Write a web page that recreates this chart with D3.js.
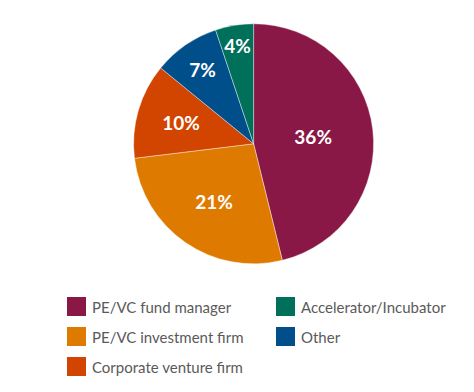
<!DOCTYPE html>
<html>
<head>
<meta charset="utf-8">
<script src="https://cdn.jsdelivr.net/npm/d3@7"></script>
<style>
  html, body { margin: 0; padding: 0; background: #fff; }
  svg { display: block; }
</style>
</head>
<body>
<svg id="chart" width="474" height="392"></svg>
<script>
// Data
const categories = ["PE/VC fund manager", "PE/VC investment firm", "Corporate venture firm", "Other", "Accelerator/Incubator"];
const values = [36, 21, 10, 7, 4];
const labels = ["36%", "21%", "10%", "7%", "4%"];
const colors = ["#8A1846", "#DF7A00", "#D14500", "#004F8B", "#00705A"];

// Legend order (as in reference layout, column-major)
const legendOrder = ["PE/VC fund manager", "PE/VC investment firm", "Corporate venture firm", "Accelerator/Incubator", "Other"];

// Layout
const cx = 253.6, cy = 143.8, R = 120;
const labelRadiusFrac = [0.50, 0.58, 0.63, 0.75, 0.83];

const svg = d3.select("#chart");
const color = d3.scaleOrdinal().domain(categories).range(colors);

const pie = d3.pie().sort(null).value(d => d.value);
const data = categories.map((c, i) => ({ cat: c, value: values[i], label: labels[i], lr: labelRadiusFrac[i] }));
const arcs = pie(data);
const arc = d3.arc().innerRadius(0).outerRadius(R);

const g = svg.append("g").attr("transform", `translate(${cx},${cy})`);
g.selectAll("path.slice")
  .data(arcs)
  .join("path")
  .attr("class", "slice")
  .attr("d", arc)
  .attr("fill", d => color(d.data.cat))
  .attr("stroke", "#fff")
  .attr("stroke-width", 0.4);

g.selectAll("text.lbl")
  .data(arcs)
  .join("text")
  .attr("class", "lbl")
  .attr("transform", d => {
    const r = R * d.data.lr;
    const a = d3.arc().innerRadius(r).outerRadius(r);
    const [x, y] = a.centroid(d);
    return `translate(${x},${y})`;
  })
  .attr("text-anchor", "middle")
  .attr("dominant-baseline", "central")
  .attr("fill", "#fff")
  .attr("font-family", "Lato, 'Open Sans', sans-serif")
  .attr("font-weight", "bold")
  .attr("font-size", 19)
  .text(d => d.data.label);

// Legend
const legendCols = [[0, 1, 2], [3, 4]];
const colX = [67, 276];
const rowY0 = 297, rowStep = 30, sq = 19;
const legend = svg.append("g");
legendCols.forEach((col, ci) => {
  col.forEach((li, ri) => {
    const name = legendOrder[li];
    const item = legend.append("g").attr("transform", `translate(${colX[ci]},${rowY0 + ri * rowStep})`);
    item.append("rect").attr("width", sq).attr("height", sq).attr("fill", color(name));
    item.append("text")
      .attr("x", sq + 6)
      .attr("y", sq / 2)
      .attr("dominant-baseline", "central")
      .attr("fill", "#5a5a5a")
      .attr("font-family", "Lato, 'Open Sans', sans-serif")
      .attr("font-size", 15)
      .text(name);
  });
});
</script>
</body>
</html>
